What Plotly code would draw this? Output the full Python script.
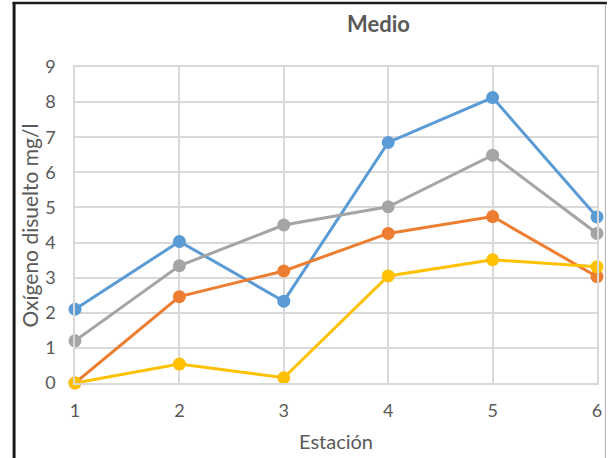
import plotly.graph_objects as go

# Dissolved oxygen (mg/l) per sampling station, four series
estaciones = [1, 2, 3, 4, 5, 6]
serie_azul = [2.1, 4.03, 2.33, 6.85, 8.13, 4.73]
serie_naranja = [0.0, 2.46, 3.19, 4.26, 4.74, 3.03]
serie_gris = [1.2, 3.34, 4.5, 5.02, 6.49, 4.26]
serie_amarilla = [0.0, 0.54, 0.15, 3.05, 3.51, 3.31]

series = [
    ("Serie 1", serie_azul, "#5B9BD5"),
    ("Serie 2", serie_naranja, "#ED7D31"),
    ("Serie 3", serie_gris, "#A5A5A5"),
    ("Serie 4", serie_amarilla, "#FFC000"),
]

W, H = 612, 458
L, R, T, B = 75, 10, 67, 75
pw, ph = W - L - R, H - T - B


def px_x(p):
    return (p - L) / pw


def px_y(p):
    return (H - B - p) / ph


fig = go.Figure()
for name, vals, color in series:
    fig.add_trace(go.Scatter(
        x=estaciones, y=vals, name=name, mode="lines+markers",
        line=dict(color=color, width=3),
        marker=dict(color=color, size=13),
        cliponaxis=False,
    ))

font = "Lato, 'Open Sans', sans-serif"
grid = "#d9d9d9"
txt = "#595959"

fig.update_layout(
    width=W, height=H,
    margin=dict(l=L, r=R, t=T, b=B),
    paper_bgcolor="white", plot_bgcolor="white",
    showlegend=False,
    font=dict(family=font, color=txt, size=18),
    xaxis=dict(
        range=[1, 6], tickvals=estaciones, showgrid=True, gridcolor=grid,
        gridwidth=1.5, showline=True, linecolor=grid, linewidth=1.5,
        mirror=True, zeroline=False, ticks="", ticklabelstandoff=11,
        tickfont=dict(size=18, color=txt),
    ),
    yaxis=dict(
        range=[0, 9], dtick=1, showgrid=True, gridcolor=grid,
        gridwidth=1.5, showline=True, linecolor=grid, linewidth=1.5,
        mirror=True, zeroline=False, ticks="", ticklabelstandoff=14,
        tickfont=dict(size=18, color=txt),
    ),
    annotations=[
        dict(text="<b>Medio</b>", x=px_x(381), y=px_y(24), xref="paper",
             yref="paper", showarrow=False, xanchor="center",
             yanchor="middle", font=dict(size=22, color=txt)),
        dict(text="Estación", x=px_x(338), y=px_y(441), xref="paper",
             yref="paper", showarrow=False, xanchor="center",
             yanchor="middle", font=dict(size=20, color=txt)),
        dict(text="Oxígeno disuelto mg/l", x=px_x(29), y=px_y(225),
             xref="paper", yref="paper", showarrow=False, textangle=-90,
             xanchor="center", yanchor="middle",
             font=dict(size=21, color=txt)),
    ],
    shapes=[
        dict(type="line", xref="paper", yref="paper",
             x0=px_x(13.5), x1=px_x(13.5), y0=px_y(2), y1=px_y(470),
             line=dict(color="#1a1a1a", width=3)),
        dict(type="line", xref="paper", yref="paper",
             x0=px_x(12), x1=px_x(612), y0=px_y(3), y1=px_y(3),
             line=dict(color="#1a1a1a", width=2.5)),
        dict(type="line", xref="paper", yref="paper",
             x0=px_x(610.5), x1=px_x(610.5), y0=px_y(4), y1=px_y(470),
             line=dict(color="#b0b0b0", width=1)),
    ],
)

fig.write_html("out.html")
